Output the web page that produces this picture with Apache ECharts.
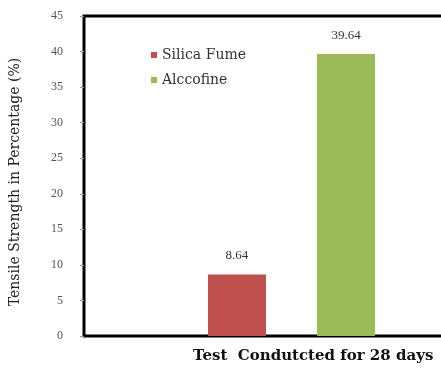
<!DOCTYPE html>
<html>
<head>
<meta charset="utf-8">
<script src="https://cdn.jsdelivr.net/npm/echarts@6/dist/echarts.min.js"></script>
<style>
  html, body { margin: 0; padding: 0; background: #fff; }
  #chart { width: 441px; height: 372px; }
</style>
</head>
<body>
<div id="chart"></div>
<script>
// values
var categories = ['28 days'];
var silicaFume = [8.64];
var alccofine = [39.64];
var yTicks = [0, 45, 5];

var chart = echarts.init(document.getElementById('chart'));

var labelStyle = {
  show: true,
  position: 'top',
  distance: 12,
  color: '#333',
  fontFamily: 'Liberation Serif',
  fontSize: 13
};

chart.setOption({
  animation: false,
  backgroundColor: '#fff',
  grid: {
    left: 84,
    top: 16,
    width: 415,
    bottom: 36,
    outerBoundsMode: 'none',
    containLabel: false,
    show: true,
    borderColor: '#000',
    borderWidth: 3
  },
  legend: {
    orient: 'vertical',
    left: 146,
    top: 43,
    itemWidth: 6,
    itemHeight: 6,
    itemGap: 11,
    icon: 'rect',
    textStyle: { color: '#333', fontFamily: 'DejaVu Serif', fontSize: 14 },
    data: ['Silica Fume', 'Alccofine']
  },
  xAxis: {
    type: 'category',
    data: categories,
    axisLine: { show: false },
    axisTick: { show: false },
    axisLabel: { show: false }
  },
  yAxis: {
    type: 'value',
    min: yTicks[0],
    max: yTicks[1],
    interval: yTicks[2],
    name: 'Tensile Strength in Percentage (%)',
    nameLocation: 'middle',
    nameGap: 62,
    nameTextStyle: { color: '#222', fontFamily: 'DejaVu Serif', fontSize: 14, padding: [0, 12, 0, 0] },
    axisLine: { show: false },
    axisTick: { show: true, length: 4, lineStyle: { color: '#999' } },
    splitLine: { show: false },
    axisLabel: { color: '#555', fontFamily: 'Liberation Serif', fontSize: 12, margin: 21 }
  },
  series: [
    {
      name: 'Silica Fume',
      type: 'bar',
      data: silicaFume,
      barWidth: 58,
      barGap: '88%',
      itemStyle: { color: '#c0504d' },
      label: labelStyle
    },
    {
      name: 'Alccofine',
      type: 'bar',
      data: alccofine,
      barWidth: 58,
      itemStyle: { color: '#9bbb59' },
      label: labelStyle
    }
  ],
  graphic: [{
    type: 'text',
    left: 193,
    top: 349,
    style: {
      text: 'Test  Condutcted for 28 days',
      fill: '#111',
      font: 'bold 15px "DejaVu Serif"'
    }
  }]
});
</script>
</body>
</html>
